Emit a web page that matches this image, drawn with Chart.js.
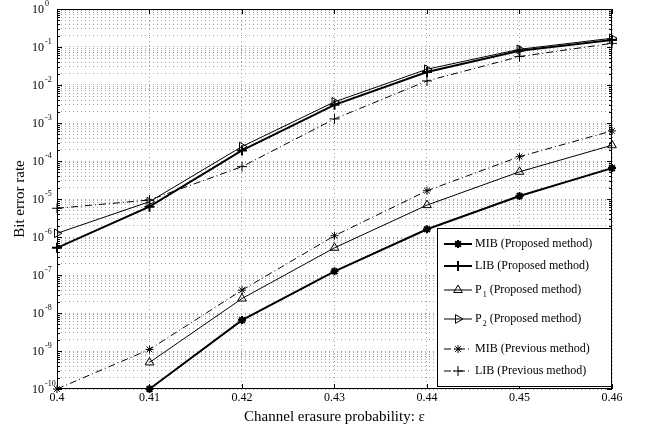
<!DOCTYPE html>
<html>
<head>
<meta charset="utf-8">
<script src="https://cdn.jsdelivr.net/npm/chart.js@4.4.0/dist/chart.umd.min.js"></script>
<style>
  body { margin: 0; background: #fff; }
  canvas { display: block; }
</style>
</head>
<body>
<canvas id="chart" width="645" height="426"></canvas>
<script>
// data
const erasureProb = [0.40, 0.41, 0.42, 0.43, 0.44, 0.45, 0.46];
const mibProposed = [null, 1e-10, 6.5e-9, 1.25e-7, 1.6e-6, 1.2e-5, 6.5e-5];
const libProposed = [5.2e-7, 6.3e-6, 1.9e-4, 3.0e-3, 2.2e-2, 8.0e-2, 0.153];
const p1Proposed = [null, 5.0e-10, 2.4e-8, 5.2e-7, 6.9e-6, 5.2e-5, 2.6e-4];
const p2Proposed = [1.25e-6, 8.5e-6, 2.4e-4, 3.6e-3, 2.6e-2, 8.7e-2, 0.17];
const mibPrevious = [1e-10, 1.1e-9, 4.0e-8, 1.08e-6, 1.65e-5, 1.3e-4, 6.2e-4];
const libPrevious = [5.7e-6, 9.4e-6, 7.1e-5, 1.28e-3, 1.28e-2, 5.6e-2, 0.125];
const yExponents = [0, -1, -2, -3, -4, -5, -6, -7, -8, -9, -10];
const xTitle = 'Channel erasure probability: \u03b5';
const yTitle = 'Bit error rate';

const SERIF = '"Liberation Serif", "DejaVu Serif", serif';
const DASHDOT = [7, 3, 1, 3];

function toPoints(vals) {
  return erasureProb.map((x, i) => ({ x: x, y: vals[i] }));
}

// legend rows: name, subscript, rest, line width, dash, marker
const legendRows = [
  { main: 'MIB', sub: '', rest: ' (Proposed method)', lw: 2, dash: [], marker: 'star', y: 244 },
  { main: 'LIB', sub: '', rest: ' (Proposed method)', lw: 2, dash: [], marker: 'cross', y: 266 },
  { main: 'P', sub: '1', rest: ' (Proposed method)', lw: 1, dash: [], marker: 'triangle', y: 290 },
  { main: 'P', sub: '2', rest: ' (Proposed method)', lw: 1, dash: [], marker: 'triRight', y: 319 },
  { main: 'MIB', sub: '', rest: ' (Previous method)', lw: 1, dash: DASHDOT, marker: 'star', y: 349 },
  { main: 'LIB', sub: '', rest: ' (Previous method)', lw: 1, dash: DASHDOT, marker: 'cross', y: 371 }
];

function drawMarker(ctx, kind, x, y, r) {
  ctx.beginPath();
  if (kind === 'star') {
    ctx.moveTo(x - r, y); ctx.lineTo(x + r, y);
    ctx.moveTo(x, y - r); ctx.lineTo(x, y + r);
    const d = r * 0.7071;
    ctx.moveTo(x - d, y - d); ctx.lineTo(x + d, y + d);
    ctx.moveTo(x - d, y + d); ctx.lineTo(x + d, y - d);
  } else if (kind === 'cross') {
    ctx.moveTo(x - r, y); ctx.lineTo(x + r, y);
    ctx.moveTo(x, y - r); ctx.lineTo(x, y + r);
  } else if (kind === 'triangle') {
    ctx.moveTo(x, y - r);
    ctx.lineTo(x + r * 0.866, y + r * 0.5);
    ctx.lineTo(x - r * 0.866, y + r * 0.5);
    ctx.closePath();
  } else if (kind === 'triRight') {
    ctx.moveTo(x + r, y);
    ctx.lineTo(x - r * 0.5, y + r * 0.866);
    ctx.lineTo(x - r * 0.5, y - r * 0.866);
    ctx.closePath();
  }
  ctx.stroke();
}

const framePlugin = {
  id: 'frame',
  afterDraw(chart) {
    const ctx = chart.ctx;
    const a = chart.chartArea;
    const x = chart.scales.x;
    const y = chart.scales.y;
    ctx.save();
    ctx.strokeStyle = '#000';
    ctx.fillStyle = '#000';
    ctx.lineWidth = 1;
    ctx.setLineDash([]);

    // inner tick marks
    ctx.beginPath();
    y.ticks.forEach(t => {
      const py = Math.round(y.getPixelForValue(t.value)) + 0.5;
      const len = t.major ? 5 : 3;
      ctx.moveTo(a.left, py); ctx.lineTo(a.left + len, py);
      ctx.moveTo(a.right, py); ctx.lineTo(a.right - len, py);
    });
    x.ticks.forEach(t => {
      const px = Math.round(x.getPixelForValue(t.value)) + 0.5;
      ctx.moveTo(px, a.bottom); ctx.lineTo(px, a.bottom - 5);
      ctx.moveTo(px, a.top); ctx.lineTo(px, a.top + 5);
    });
    ctx.stroke();

    // axes box
    ctx.strokeRect(a.left + 0.5, a.top + 0.5, a.right - a.left - 1, a.bottom - a.top - 1);

    // y tick labels 10^k
    ctx.textBaseline = 'middle';
    ctx.textAlign = 'left';
    yExponents.forEach(e => {
      const py = y.getPixelForValue(Math.pow(10, e));
      ctx.font = '12px ' + SERIF;
      ctx.fillText('10', 32, py + 1);
      ctx.font = '8px ' + SERIF;
      ctx.fillText(String(e), 45, py - 5);
    });

    // legend box
    const lx = 437, ly = 228, lw = 175, lh = 159;
    ctx.fillStyle = '#fff';
    ctx.fillRect(lx, ly, lw, lh);
    ctx.strokeRect(lx + 0.5, ly + 0.5, lw - 1, lh - 1);
    ctx.fillStyle = '#000';
    legendRows.forEach(row => {
      ctx.lineWidth = row.lw;
      ctx.setLineDash(row.dash);
      ctx.beginPath();
      ctx.moveTo(444, row.y); ctx.lineTo(472, row.y);
      ctx.stroke();
      ctx.setLineDash([]);
      drawMarker(ctx, row.marker, 458, row.y, row.marker === 'star' ? 4 : 5);
      let tx = 475;
      ctx.font = '12px ' + SERIF;
      ctx.fillText(row.main, tx, row.y);
      tx += ctx.measureText(row.main).width;
      if (row.sub) {
        ctx.font = '8px ' + SERIF;
        ctx.fillText(row.sub, tx + 1, row.y + 5);
        tx += ctx.measureText(row.sub).width + 1;
        ctx.font = '12px ' + SERIF;
      }
      ctx.fillText(row.rest, tx, row.y);
    });
    ctx.restore();
  }
};

function lineSet(label, vals, opts) {
  return Object.assign({
    label: label,
    data: toPoints(vals),
    borderColor: '#000',
    backgroundColor: 'rgba(0,0,0,0)',
    pointBorderColor: '#000',
    pointBackgroundColor: 'rgba(0,0,0,0)',
    borderWidth: 1,
    pointBorderWidth: 1,
    pointRadius: 5,
    tension: 0,
    clip: false
  }, opts);
}

const chart = new Chart(document.getElementById('chart'), {
  type: 'line',
  data: {
    datasets: [
      lineSet('MIB (Proposed method)', mibProposed, { borderWidth: 2, pointBorderWidth: 2, pointStyle: 'star', pointRadius: 4 }),
      lineSet('LIB (Proposed method)', libProposed, { borderWidth: 2, pointBorderWidth: 2, pointStyle: 'cross', pointRadius: 5 }),
      lineSet('P1 (Proposed method)', p1Proposed, { pointStyle: 'triangle', pointRadius: 5 }),
      lineSet('P2 (Proposed method)', p2Proposed, { pointStyle: 'triangle', pointRotation: 90, pointRadius: 5 }),
      lineSet('MIB (Previous method)', mibPrevious, { borderDash: DASHDOT, pointStyle: 'star', pointRadius: 4 }),
      lineSet('LIB (Previous method)', libPrevious, { borderDash: DASHDOT, pointStyle: 'cross', pointRadius: 5 })
    ]
  },
  options: {
    responsive: false,
    animation: false,
    events: [],
    layout: { padding: { left: 0, right: 33, top: 9, bottom: 0 } },
    plugins: {
      legend: { display: false },
      tooltip: { enabled: false }
    },
    scales: {
      x: {
        type: 'linear',
        min: 0.4,
        max: 0.46,
        afterBuildTicks: scale => { scale.ticks = erasureProb.map(v => ({ value: v })); },
        afterFit: scale => { scale.height = 37; },
        ticks: {
          color: '#000',
          padding: 2,
          font: { family: SERIF, size: 12 },
          maxRotation: 0,
          callback: v => String(Number(v.toFixed(2)))
        },
        grid: { color: '#a0a0a0', lineWidth: 1, drawTicks: false },
        border: { display: false, dash: [1, 3] },
        title: {
          display: true,
          text: xTitle,
          color: '#000',
          font: { family: SERIF, size: 15 },
          padding: { top: 4, bottom: 0 }
        }
      },
      y: {
        type: 'logarithmic',
        min: 1e-10,
        max: 1,
        afterBuildTicks: scale => {
          const t = [];
          for (let e = -10; e <= 0; e++) {
            for (let m = 1; m <= 9; m++) {
              const v = m * Math.pow(10, e);
              if (v > 1.0000001) break;
              t.push({ value: v, major: m === 1 });
            }
          }
          scale.ticks = t;
        },
        afterFit: scale => { scale.width = 57; },
        ticks: { display: false },
        grid: { color: '#a0a0a0', lineWidth: 1, drawTicks: false },
        border: { display: false, dash: [1, 3] },
        title: {
          display: true,
          text: yTitle,
          color: '#000',
          font: { family: SERIF, size: 15 },
          padding: { top: 11, bottom: 0 }
        }
      }
    }
  },
  plugins: [framePlugin]
});
</script>
</body>
</html>
